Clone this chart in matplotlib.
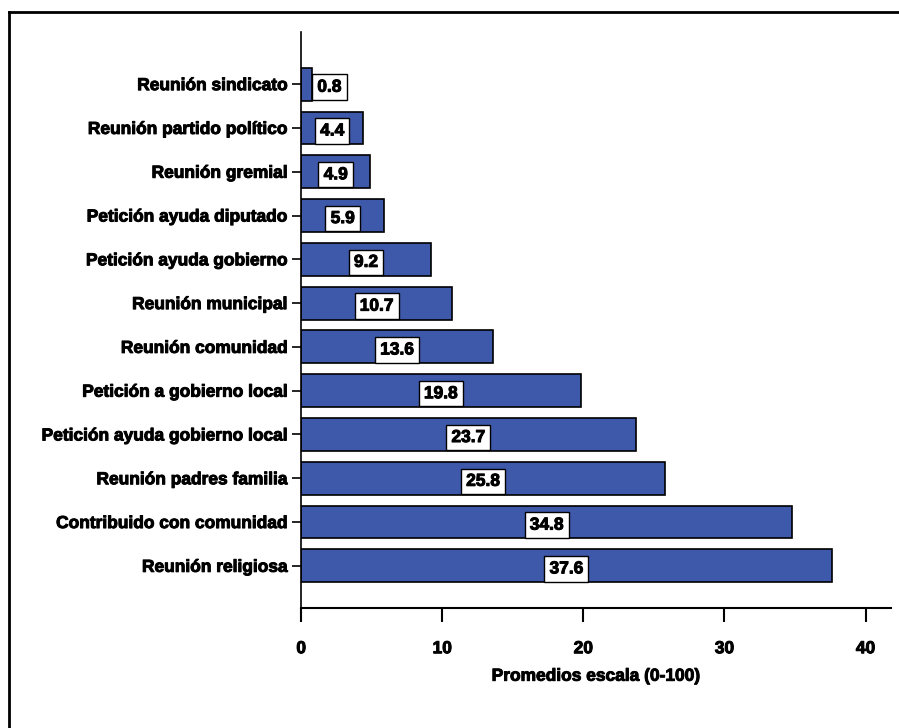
import matplotlib.pyplot as plt
from matplotlib.lines import Line2D
import matplotlib.patheffects as pe

# Data, bottom to top
categorias = ['Reunión religiosa', 'Contribuido con comunidad', 'Reunión padres familia',
              'Petición ayuda gobierno local', 'Petición a gobierno local', 'Reunión comunidad',
              'Reunión municipal', 'Petición ayuda gobierno', 'Petición ayuda diputado',
              'Reunión gremial', 'Reunión partido político', 'Reunión sindicato']
valores = [37.6, 34.8, 25.8, 23.7, 19.8, 13.6, 10.7, 9.2, 5.9, 4.9, 4.4, 0.8]
etiquetas = ['37.6', '34.8', '25.8', '23.7', '19.8', '13.6', '10.7', '9.2', '5.9', '4.9', '4.4', '0.8']

plt.rcParams['font.family'] = ['Liberation Sans', 'DejaVu Sans']
plt.rcParams['font.weight'] = 'bold'

heavy = [pe.withStroke(linewidth=0.7, foreground='black')]

fig = plt.figure(figsize=(8.99, 7.28), dpi=100)
ax = fig.add_axes([0.335, 0.165, 0.656, 0.791])

pos = list(range(len(categorias)))
ax.barh(pos, valores, height=0.75, color='#3F59AA', edgecolor='black', linewidth=1.2)

for p, v, t in zip(pos, valores, etiquetas):
    x = v / 2 if v > 3 else 2.0
    ax.text(x, p - 0.07, t, ha='center', va='center', fontsize=12.5, fontweight='bold',
            path_effects=heavy,
            bbox=dict(boxstyle='square,pad=0.3', facecolor='white', edgecolor='black', linewidth=1))

ax.set_yticks(pos)
ax.set_yticklabels(categorias, fontsize=12.5, fontweight='bold')
ax.set_ylim(-0.96, 12.19)
ax.set_xlim(0, 41.8)
ax.set_xticks([0, 10, 20, 30, 40])
ax.tick_params(axis='x', length=10, width=1.5, pad=14, labelsize=12.5)
ax.tick_params(axis='y', length=6.5, width=1.2, pad=3)
for lbl in ax.get_xticklabels() + ax.get_yticklabels():
    lbl.set_fontweight('bold')
    lbl.set_path_effects(heavy)
xl = ax.set_xlabel('Promedios escala (0-100)', fontsize=12.5, fontweight='bold', labelpad=9)
xl.set_path_effects(heavy)

ax.spines['top'].set_visible(False)
ax.spines['right'].set_visible(False)
ax.spines['left'].set_linewidth(1.2)
ax.spines['bottom'].set_linewidth(1.5)

# partial frame: top and left lines
fig.add_artist(Line2D([9 / 899, 1], [1 - 12 / 728, 1 - 12 / 728], color='black', linewidth=2, transform=fig.transFigure))
fig.add_artist(Line2D([9 / 899, 9 / 899], [0, 1 - 12 / 728], color='black', linewidth=2, transform=fig.transFigure))

fig.savefig('out.png', dpi=100)
